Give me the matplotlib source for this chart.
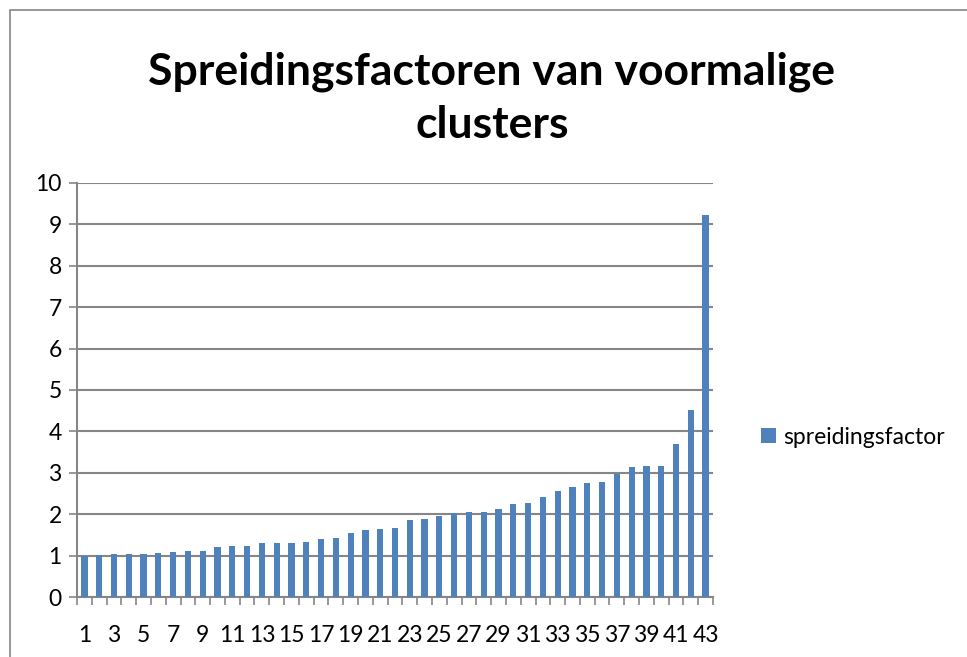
import matplotlib
matplotlib.use("Agg")
import matplotlib.pyplot as plt
import numpy as np
from matplotlib.patches import Rectangle

categories = list(range(1, 44))
values = [0.99, 1.02, 1.04, 1.04, 1.05, 1.07, 1.08, 1.10, 1.12, 1.20,
          1.23, 1.24, 1.31, 1.30, 1.30, 1.34, 1.39, 1.43, 1.54, 1.61,
          1.65, 1.67, 1.85, 1.88, 1.96, 2.03, 2.05, 2.06, 2.13, 2.24,
          2.27, 2.41, 2.56, 2.65, 2.75, 2.78, 2.97, 3.13, 3.16, 3.16,
          3.69, 4.51, 9.22]
series_name = "spreidingsfactor"
title = "Spreidingsfactoren van voormalige\nclusters"

plt.rcParams['font.family'] = ['Lato', 'DejaVu Sans']

fig = plt.figure(figsize=(9.67, 6.57), dpi=100)
fig.patches.append(Rectangle((10/967, -0.1), 1.2, 1 - 10/657 + 0.1,
                             transform=fig.transFigure, fill=False,
                             edgecolor='#868686', linewidth=1.2))
ax = fig.add_axes([77/967, 1 - 597/657, (713-77)/967, (597-183)/657])

x = np.arange(len(categories))
bars = ax.bar(x, values, width=0.42, color='#4F81BD', label=series_name, zorder=3)

ax.set_xlim(-0.5, len(categories) - 0.5)
ax.set_ylim(0, 10)
ax.set_yticks(range(0, 11))
ax.yaxis.grid(True, color='#868686', linewidth=1.5, zorder=0)
ax.tick_params(axis='y', labelsize=16.5, length=6, width=1.2, color='#868686', pad=5)

ax.set_xticks(np.arange(-0.5, len(categories), 1.0))
ax.set_xticklabels([])
ax.tick_params(axis='x', which='major', length=6, width=1.2, color='#868686', direction='out')
ax.set_xticks(x[::2], minor=True)
ax.set_xticklabels([str(c) for c in categories[::2]], minor=True)
ax.tick_params(axis='x', which='minor', length=0, labelsize=16.5, pad=20)

for s in ['top', 'right']:
    ax.spines[s].set_visible(False)
for s in ['left', 'bottom']:
    ax.spines[s].set_color('#868686')
    ax.spines[s].set_linewidth(1.5)

fig.text(492/967, 1 - 98/657, title, ha='center', va='center', fontsize=32,
         fontweight='bold', linespacing=1.4)

fig.legend(handles=[bars], labels=[series_name], loc='center left',
           bbox_to_anchor=(740/967, 1 - 437/657), frameon=False, fontsize=16.5,
           handlelength=0.65, handleheight=0.65, handletextpad=0.35)

fig.savefig("out.png", dpi=100)
